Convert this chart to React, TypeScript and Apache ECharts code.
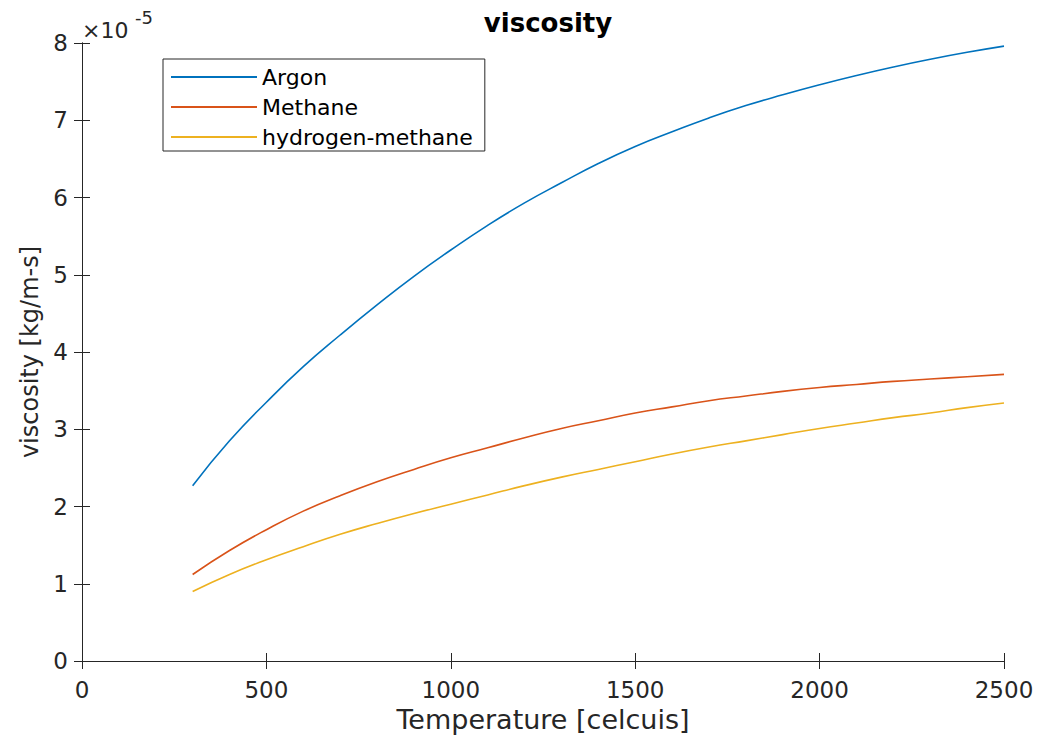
import React, { useEffect, useRef } from "react";
import * as echarts from "echarts";

// Temperature samples [°C]
const TEMPERATURES = [
  300, 400, 500, 600, 700, 800, 900, 1000, 1100, 1200, 1300, 1400, 1500,
  1600, 1700, 1800, 1900, 2000, 2100, 2200, 2300, 2400, 2500,
];

// Dynamic viscosity, in units of 1e-5 kg/m-s
const ARGON = [
  2.27, 2.85, 3.35, 3.81, 4.22, 4.61, 4.98, 5.32, 5.64, 5.93, 6.19, 6.44,
  6.66, 6.85, 7.03, 7.19, 7.33, 7.46, 7.58, 7.69, 7.79, 7.88, 7.96,
];
const METHANE = [
  1.12, 1.43, 1.7, 1.94, 2.14, 2.32, 2.48, 2.63, 2.76, 2.89, 3.01, 3.11, 3.21,
  3.29, 3.37, 3.43, 3.49, 3.54, 3.58, 3.62, 3.65, 3.68, 3.71,
];
const HYDROGEN_METHANE = [
  0.9, 1.12, 1.31, 1.48, 1.64, 1.78, 1.91, 2.03, 2.15, 2.27, 2.38, 2.48, 2.58,
  2.68, 2.77, 2.85, 2.93, 3.01, 3.08, 3.15, 3.21, 3.28, 3.34,
];

const SERIES_NAMES = ["Argon", "Methane", "hydrogen-methane"];
const SERIES_COLORS = ["#0072BD", "#D95319", "#EDB120"];
const X_TICKS = { min: 0, max: 2500, interval: 500 };
const Y_TICKS = { min: 0, max: 8, interval: 1 };

const INK = "#262626";
const FONT = "'DejaVu Sans', sans-serif";

export default function App() {
  const ref = useRef<HTMLDivElement>(null);

  useEffect(() => {
    if (!ref.current) return;
    const chart = echarts.init(ref.current, null, { renderer: "svg" });

    const pair = (vals: number[]) => TEMPERATURES.map((t, i) => [t, vals[i]]);
    const datasets = [ARGON, METHANE, HYDROGEN_METHANE];

    const frameAxis = {
      axisLine: { show: true, lineStyle: { color: INK, width: 1 } },
      axisTick: { show: true, inside: true, length: 8, lineStyle: { color: INK } },
      splitLine: { show: false },
    };

    chart.setOption({
      animation: false,
      backgroundColor: "#ffffff",
      title: {
        text: "viscosity",
        left: 543,
        textAlign: "center",
        top: 5,
        textStyle: { fontFamily: FONT, fontSize: 26, fontWeight: "bold", color: "#000" },
      },
      grid: { left: 82, right: 36, top: 43, bottom: 79, containLabel: false },
      legend: {
        data: SERIES_NAMES,
        orient: "vertical",
        left: 163,
        top: 59,
        padding: [7, 12, 3, 8],
        icon: "rect",
        itemWidth: 86,
        itemHeight: 2,
        itemGap: 8,
        backgroundColor: "#ffffff",
        borderColor: INK,
        borderWidth: 1,
        borderRadius: 0,
        selectedMode: false,
        textStyle: { fontFamily: FONT, fontSize: 22, lineHeight: 22, color: "#000" },
      },
      xAxis: [
        {
          type: "value",
          position: "bottom",
          ...X_TICKS,
          ...frameAxis,
          name: "Temperature [celcuis]",
          nameLocation: "middle",
          nameGap: 44,
          nameTextStyle: { fontFamily: FONT, fontSize: 27, color: INK },
          axisLabel: {
            fontFamily: FONT,
            fontSize: 23,
            color: INK,
            margin: 17,
            formatter: (v: number) => String(v),
          },
        },
        {
          type: "value",
          position: "top",
          ...X_TICKS,
          ...frameAxis,
          axisLabel: { show: false },
        },
      ],
      yAxis: [
        {
          type: "value",
          position: "left",
          ...Y_TICKS,
          ...frameAxis,
          name: "viscosity [kg/m-s]",
          nameLocation: "middle",
          nameGap: 33,
          nameTextStyle: { fontFamily: FONT, fontSize: 24, color: INK },
          axisLabel: { fontFamily: FONT, fontSize: 23, color: INK, margin: 14 },
        },
        {
          type: "value",
          position: "right",
          ...Y_TICKS,
          ...frameAxis,
          axisLabel: { show: false },
        },
      ],
      graphic: [
        {
          type: "text",
          left: 82,
          top: 19,
          style: { text: "×10", fontFamily: FONT, fontSize: 22, fill: INK },
        },
        {
          type: "text",
          left: 135,
          top: 8,
          style: { text: "-5", fontFamily: FONT, fontSize: 18, fill: INK },
        },
      ],
      series: datasets.map((vals, i) => ({
        name: SERIES_NAMES[i],
        type: "line",
        data: pair(vals),
        smooth: true,
        symbol: "none",
        showSymbol: false,
        color: SERIES_COLORS[i],
        itemStyle: { color: SERIES_COLORS[i] },
        lineStyle: { color: SERIES_COLORS[i], width: 1.6 },
        xAxisIndex: 0,
        yAxisIndex: 0,
      })),
    });

    return () => chart.dispose();
  }, []);

  return (
    <div
      ref={ref}
      style={{ position: "fixed", left: 0, top: 0, width: 1040, height: 740, background: "#fff" }}
    />
  );
}
